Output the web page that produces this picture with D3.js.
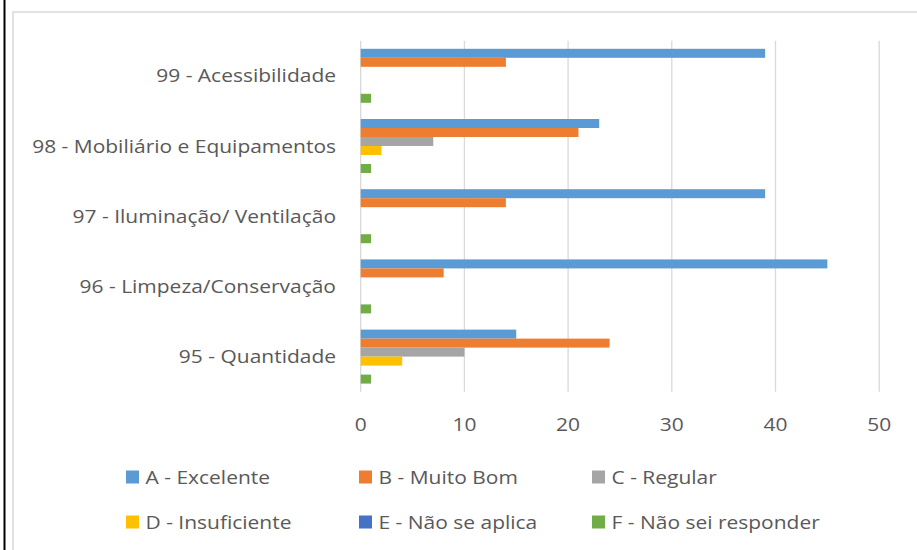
<!DOCTYPE html>
<html>
<head>
<meta charset="utf-8">
<script src="https://cdn.jsdelivr.net/npm/d3@7"></script>
<style>
  html, body { margin: 0; padding: 0; background: #fff; }
  svg { display: block; }
  text { font-family: "Open Sans", Lato, sans-serif; fill: #595959; }
</style>
</head>
<body>
<svg id="chart" width="917" height="550"></svg>
<script>
// ---- data ----
const categories = ["99 - Acessibilidade", "98 - Mobiliário e Equipamentos", "97 - Iluminação/ Ventilação", "96 - Limpeza/Conservação", "95 - Quantidade"];
const seriesNames = ["A - Excelente", "B - Muito Bom", "C - Regular", "D - Insuficiente", "E - Não se aplica", "F - Não sei responder"];
const valuesA = [39, 23, 39, 45, 15];
const valuesB = [14, 21, 14, 8, 24];
const valuesC = [0, 7, 0, 0, 10];
const valuesD = [0, 2, 0, 0, 4];
const valuesE = [0, 0, 0, 0, 0];
const valuesF = [1, 1, 1, 1, 1];
const tickValues = [0, 10, 20, 30, 40, 50];
const colors = ["#5B9BD5", "#ED7D31", "#A5A5A5", "#FFC000", "#4472C4", "#70AD47"];

const seriesValues = [valuesA, valuesB, valuesC, valuesD, valuesE, valuesF];

const svg = d3.select("#chart");
const fontSize = 18.5;

// horizontal stretch factor so text widths match the reference's wide glyphs
const probe = svg.append("text").attr("font-size", fontSize).text("98 - Mobiliário e Equipamentos");
const probeW = probe.node().getComputedTextLength();
probe.remove();
const kx = 304 / probeW;

function addText(g, str, x, y, anchor) {
  return g.append("text")
    .attr("transform", `translate(${x},${y}) scale(${kx},1)`)
    .attr("font-size", fontSize)
    .attr("text-anchor", anchor)
    .text(str);
}

// frame
svg.append("line").attr("x1", 4.5).attr("x2", 4.5).attr("y1", 0).attr("y2", 550)
  .attr("stroke", "#000").attr("stroke-width", 2);
svg.append("rect").attr("x", 13).attr("y", 12).attr("width", 930).attr("height", 560)
  .attr("fill", "none").attr("stroke", "#D9D9D9").attr("stroke-width", 1.5);

// scales
const x = d3.scaleLinear().domain([0, 50]).range([360.7, 879.2]);
const y = d3.scaleBand().domain(categories).range([40.7, 391.7]).paddingInner(0.2308).paddingOuter(0.1154);
const y1 = d3.scaleBand().domain(seriesNames).range([0, y.bandwidth()]).padding(0);

// gridlines
const grid = svg.append("g");
grid.selectAll("line").data(tickValues).join("line")
  .attr("x1", d => x(d)).attr("x2", d => x(d))
  .attr("y1", y.range()[0]).attr("y2", y.range()[1])
  .attr("stroke", "#D9D9D9").attr("stroke-width", 1.3);

// bars
const groups = svg.append("g").selectAll("g").data(categories).join("g")
  .attr("transform", c => `translate(0,${y(c)})`);
groups.selectAll("rect")
  .data((c, ci) => seriesNames.map((s, si) => ({ s, si, v: seriesValues[si][ci] })))
  .join("rect")
  .attr("x", x(0))
  .attr("y", d => y1(d.s))
  .attr("width", d => x(d.v) - x(0))
  .attr("height", y1.bandwidth())
  .attr("fill", d => colors[d.si]);

// category labels
const labels = svg.append("g");
categories.forEach(c => addText(labels, c, 336, y(c) + y.bandwidth() / 2 + 6.6, "end"));

// x tick labels
const ticksG = svg.append("g");
tickValues.forEach(t => addText(ticksG, String(t), x(t), 431, "middle"));

// legend
const legend = svg.append("g");
const legX = [126, 359, 592];
const legY = [477, 522];
seriesNames.forEach((s, i) => {
  const lx = legX[i % 3], ly = legY[Math.floor(i / 3)];
  legend.append("rect").attr("x", lx).attr("y", ly - 6.5).attr("width", 13).attr("height", 13).attr("fill", colors[i]);
  addText(legend, s, lx + 19.5, ly + 6.6, "start");
});
</script>
</body>
</html>
